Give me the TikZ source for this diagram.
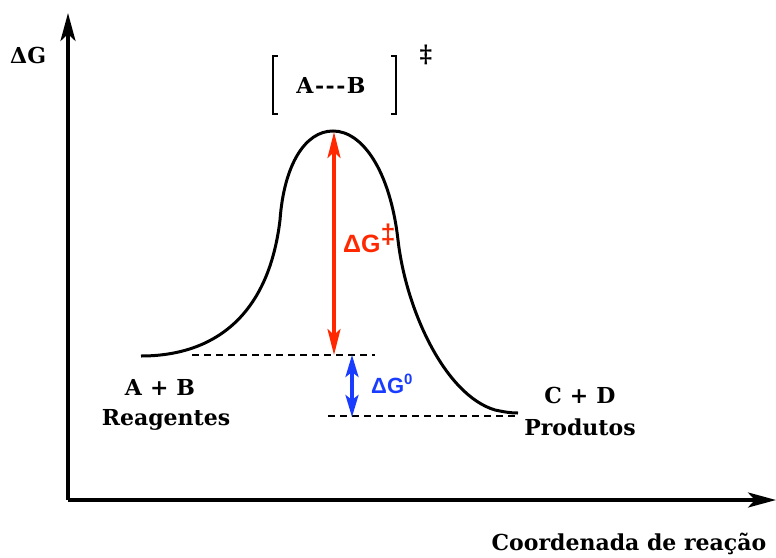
\documentclass[tikz,border=0pt]{standalone}
\usepackage{fontspec}
\setmainfont{DejaVu Serif}
\newfontfamily\helv{Liberation Sans}
\usetikzlibrary{arrows.meta}
\definecolor{actred}{RGB}{255,40,0}
\definecolor{eqblue}{RGB}{25,60,255}

\begin{document}
\begin{tikzpicture}[x=1pt,y=-1pt,
  lbl/.style={font=\fontsize{22}{24}\selectfont\bfseries,inner sep=0pt},
  dglbl/.style={font=\helv\bfseries\fontsize{25}{26}\selectfont,inner sep=0pt,anchor=base west},
  level/.style={line width=2.8pt,dash pattern=on 7pt off 5pt},
  tip/.style={line width=3.5pt,{Stealth[length=26pt,width=13pt,inset=6pt]}-{Stealth[length=26pt,width=13pt,inset=6pt]}}]
 \useasboundingbox (0,0) rectangle (776,557);
 % axes
 \coordinate (O) at (68,500);
 \coordinate (ytip) at (68,13);
 \coordinate (xtip) at (776,500);
 \draw[line width=3.5pt,-{Stealth[length=28pt,width=15pt,inset=7pt]}] (O) -- (ytip);
 \draw[line width=3.5pt,-{Stealth[length=28pt,width=15pt,inset=7pt]}] (O) -- (xtip);
 \node[lbl,anchor=base west] (dGaxis) at (10,63) {ΔG};
 \node[lbl,anchor=base] (xlabel) at (629,550) {Coordenada de reação};
 % energy profile
 \draw[line width=3pt] (141,356) .. controls (210,356) and (268,320) .. (280,220)
   .. controls (284,165) and (305,131) .. (333,131)
   .. controls (362,131) and (390,170) .. (398,240)
   .. controls (406,310) and (445,395) .. (495,410)
   .. controls (505,412) and (510,413) .. (518,413);
 \coordinate (peak) at (334,132);
 \coordinate (reac) at (334,355);
 \coordinate (reacb) at (352,355);
 \coordinate (prod) at (352,417);
 \draw[level] (192,355) -- (375,355);
 \draw[level] (328,416) -- (515,416);
 \draw[tip,actred] (peak) -- (reac);
 \draw[tip,eqblue,{Stealth[length=22pt,width=13pt,inset=5pt]}-{Stealth[length=22pt,width=13pt,inset=5pt]}] (reacb) -- (prod);
 \node[dglbl,text=actred] (dGact) at (343,252) {ΔG\raisebox{9pt}{\fontsize{27}{27}\selectfont ‡}};
 \node[dglbl,text=eqblue,font=\helv\bfseries\fontsize{22}{23}\selectfont] (dGzero) at (371,393) {ΔG\raisebox{9pt}{\fontsize{15}{15}\selectfont 0}};
 % transition state
 \draw[line width=2.5pt] (278,56) -- (273,56) -- (273,114) -- (278,114);
 \draw[line width=2.5pt] (391,56) -- (396,56) -- (396,114) -- (391,114);
 \node[lbl,anchor=base] (ts) at (331,93) {A\kern1.5pt-\kern1.5pt-\kern1.5pt-\kern1.5ptB};
 \node[lbl,font=\fontsize{24}{24}\selectfont\bfseries] (dagger) at (426,55) {‡};
 % species
 \node[lbl,anchor=base] (AB) at (160,395) {A\hspace{8pt}+\hspace{8pt}B};
 \node[lbl,anchor=base] (reag) at (166,425) {Reagentes};
 \node[lbl,anchor=base] (CD) at (580,403) {C\hspace{8pt}+\hspace{8pt}D};
 \node[lbl,anchor=base] (prods) at (580,435) {Produtos};
\end{tikzpicture}
\end{document}
